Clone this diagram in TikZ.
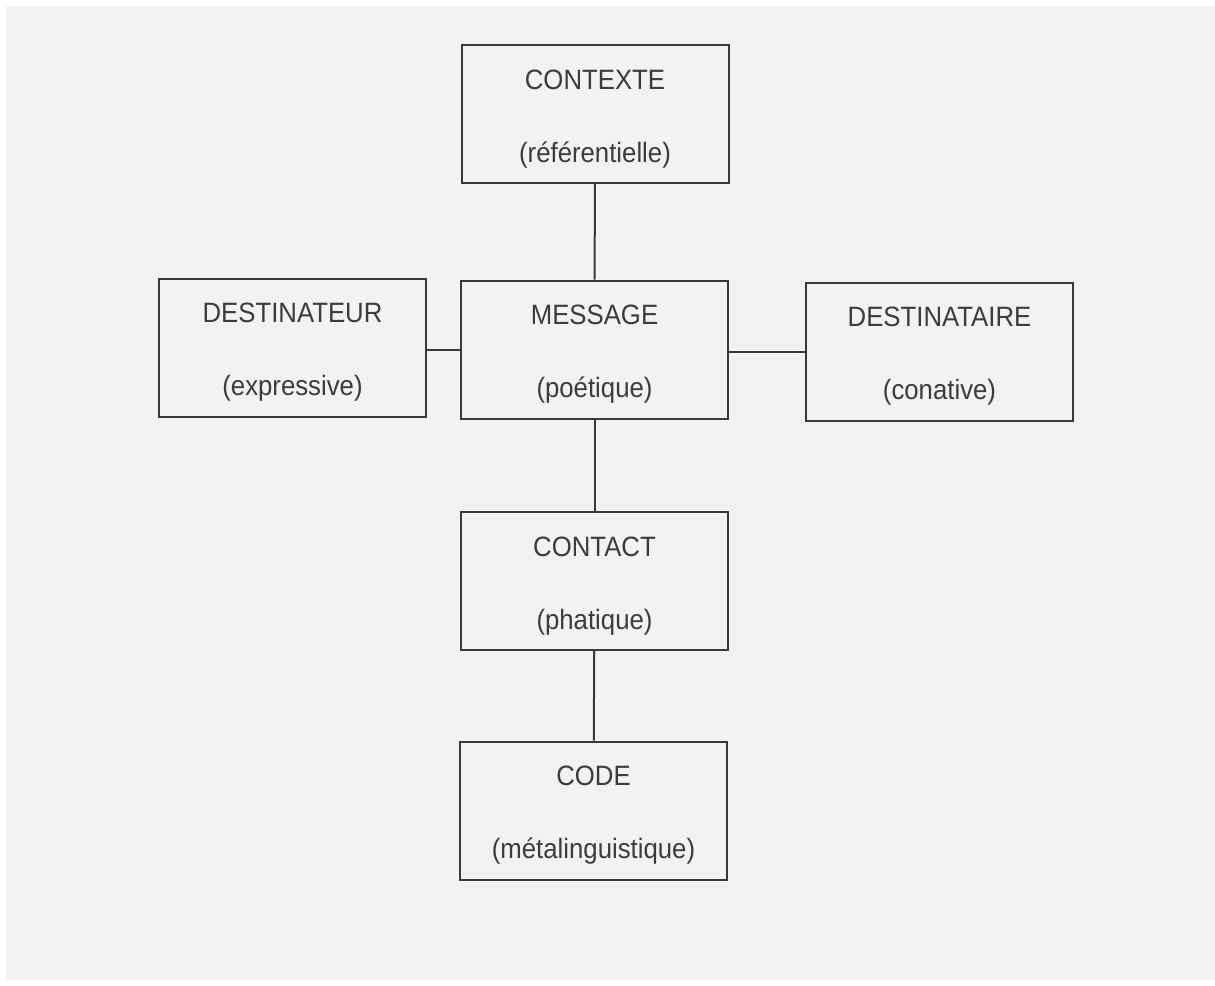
\documentclass[tikz,border=0pt]{standalone}
\usepackage{fontspec}
\setmainfont[FakeStretch=0.92]{Liberation Sans}
\definecolor{paper}{HTML}{F3F2F1}
\definecolor{ink}{HTML}{383838}
\definecolor{txt}{HTML}{3C3C3C}
\newcommand{\fnbox}[4]{%
  \node[box] (#1) at (#2) {};
  \node[lbl] (#1-a) at ([yshift=12.5pt]#1.center) {#3};
  \node[lbl] (#1-b) at ([yshift=-24pt]#1.center) {#4};}
\begin{document}
\begin{tikzpicture}[x=0.5pt,y=-0.5pt,
  box/.style={draw=ink, line width=1pt, minimum width=133.5pt, minimum height=69pt,
    inner sep=0pt},
  lbl/.style={anchor=base, inner sep=0pt, text=txt, font=\fontsize{14}{16}\selectfont},
  link/.style={draw=ink, line width=1pt}]
\fill[white] (0,0) rectangle (1215,985);
\fill[paper] (6,6) rectangle (1215,980);
\useasboundingbox (0,0) rectangle (1215,985);
\fnbox{ctx}{595,114}{CONTEXTE}{(référentielle)}
\fnbox{msg}{594.5,349.5}{MESSAGE}{(poétique)}
\fnbox{dsr}{292.5,347.5}{DESTINATEUR}{(expressive)}
\fnbox{dst}{939.5,351.5}{DESTINATAIRE}{(conative)}
\fnbox{cnt}{594.5,581}{CONTACT}{(phatique)}
\fnbox{cod}{593.5,810.5}{CODE}{(métalinguistique)}
\draw[link] (ctx) -- (msg);
\draw[link] (msg) -- (cnt);
\draw[link] (cnt) -- (cod);
\draw[link] (dsr.east |- 0,350) -- (msg.west |- 0,350);
\draw[link] (msg.east |- 0,352) -- (dst.west |- 0,352);
\end{tikzpicture}
\end{document}
